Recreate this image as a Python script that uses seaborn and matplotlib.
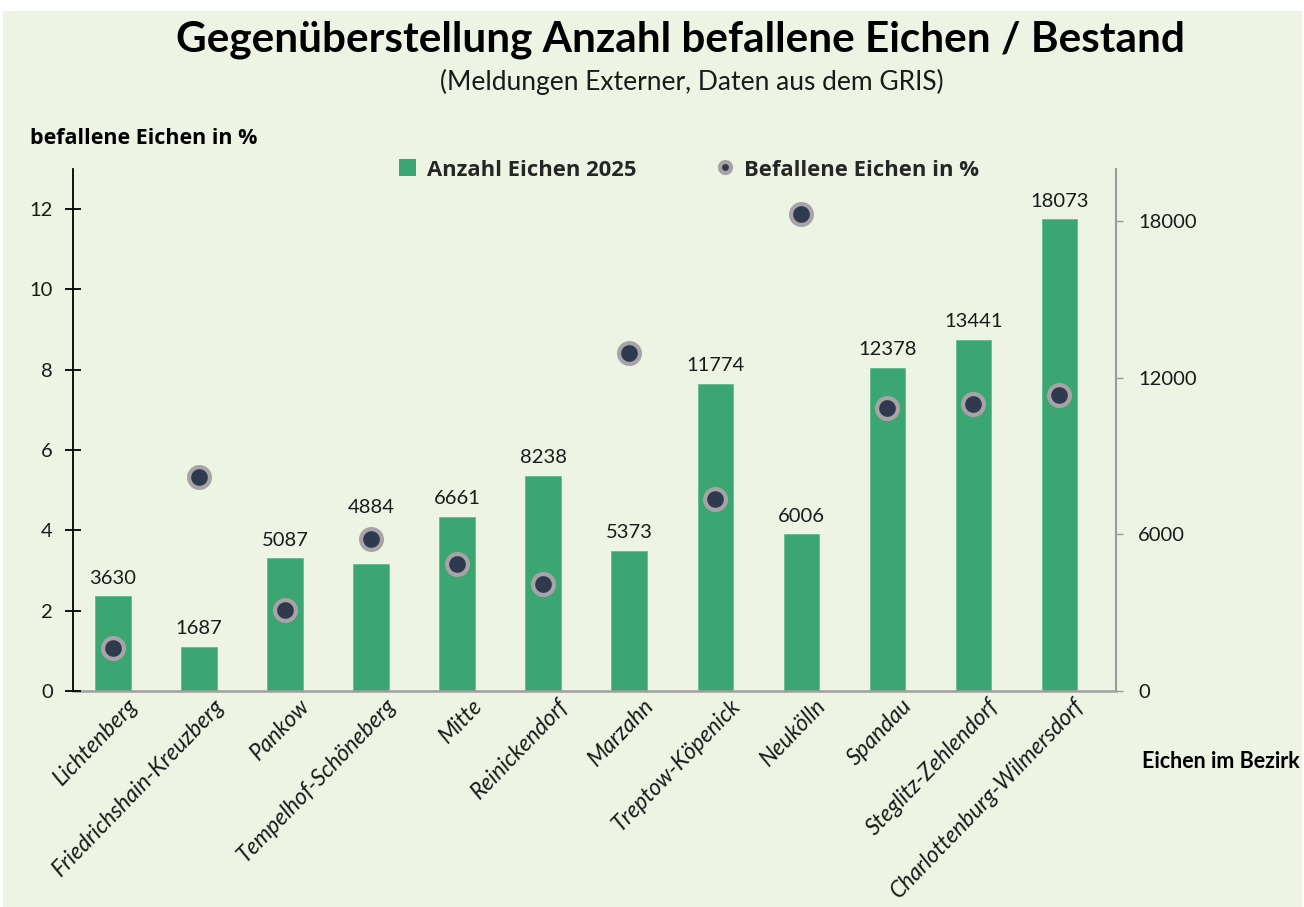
import matplotlib
matplotlib.use("Agg")
import matplotlib.pyplot as plt
import matplotlib.transforms as mtransforms
from matplotlib.lines import Line2D
from matplotlib.patches import Patch, Rectangle
import seaborn as sns
import pandas as pd
import numpy as np

# ---- data ----
districts = ["Lichtenberg", "Friedrichshain-Kreuzberg", "Pankow", "Tempelhof-Schöneberg",
             "Mitte", "Reinickendorf", "Marzahn", "Treptow-Köpenick", "Neukölln",
             "Spandau", "Steglitz-Zehlendorf", "Charlottenburg-Wilmersdorf"]
oaks_2025 = [3630, 1687, 5087, 4884, 6661, 8238, 5373, 11774, 6006, 12378, 13441, 18073]
infested_pct = [1.08, 5.32, 2.02, 3.78, 3.16, 2.66, 8.43, 4.79, 11.87, 7.06, 7.14, 7.37]
left_ticks = [0, 2, 4, 6, 8, 10, 12]
right_ticks = [0, 6000, 12000, 18000]

title = "Gegenüberstellung Anzahl befallene Eichen / Bestand"
subtitle = "(Meldungen Externer, Daten aus dem GRIS)"
left_label = "befallene Eichen in %"
right_label = "Eichen im Bezirk"
legend_bar = "Anzahl Eichen 2025"
legend_dot = "Befallene Eichen in %"

BG = "#EEF4E4"
GREEN = "#3BA672"
DOT = "#2F3A4F"
RING = "#A8A3A7"

sns.set_theme(style="white")
plt.rcParams["font.family"] = ["Lato", "DejaVu Sans"]

df = pd.DataFrame({"district": districts, "oaks": oaks_2025, "pct": infested_pct})

fig = plt.figure(figsize=(13.04, 9.07), dpi=100)
fig.patch.set_facecolor("white")
bg = Rectangle((3 / 1304, 0), 1 - 5 / 1304, 1 - 11 / 907,
               transform=fig.transFigure, facecolor=BG, edgecolor="none", zorder=-10)
fig.add_artist(bg)

YMAX_R, YMAX_L = 20000, 13
AX_H_PX = 691 - 169

ax = fig.add_axes([73 / 1304, 1 - 691 / 907, (1116 - 73) / 1304, AX_H_PX / 907])
ax.set_facecolor("none")
sns.barplot(data=df, x="district", y="oaks", color=GREEN, width=0.41, ax=ax,
            saturation=1, edgecolor="#5CC08A", linewidth=0.6)
ax.set_xlim(-0.465, 11.66)
ax.set_ylim(0, YMAX_R)
ax.set_yticks(right_ticks)
ax.yaxis.tick_right()
ax.yaxis.set_label_position("right")
anns = ax.bar_label(ax.containers[0], labels=[str(v) for v in oaks_2025], padding=7,
                    fontsize=14.5, color="#1a1a1a")
# lift a value label above a dot that would sit on top of it
for ann, v, p in zip(anns, oaks_2025, infested_pct):
    gap = p / YMAX_L - v / YMAX_R
    if 0 < gap < 0.06:
        ann.xyann = (0, (gap * AX_H_PX + 23) * 72 / 100)

ax2 = ax.twinx()
ax2.set_facecolor("none")
ax2.set_ylim(0, YMAX_L)
sns.scatterplot(data=df, x="district", y="pct", ax=ax2, s=15 ** 2, color=DOT,
                edgecolor=RING, linewidth=3, zorder=5)
ax2.set_xlim(-0.465, 11.66)
ax2.set_yticks(left_ticks)
ax2.yaxis.tick_left()
ax2.yaxis.set_label_position("left")

for a in (ax, ax2):
    a.set_xlabel("")
    a.set_ylabel("")
    a.spines["top"].set_visible(False)

ax.spines["left"].set_visible(False)
ax.spines["right"].set_color("#9a9a9a")
ax.spines["right"].set_linewidth(1.5)
ax.spines["bottom"].set_color("#a0a0a0")
ax.spines["bottom"].set_linewidth(1.8)
ax2.spines["right"].set_visible(False)
ax2.spines["bottom"].set_visible(False)
ax2.spines["left"].set_color("black")
ax2.spines["left"].set_linewidth(1.3)

ax.tick_params(axis="y", which="both", right=True, left=False, labelright=True, labelleft=False,
               direction="out", length=5, width=1, color="#9a9a9a", pad=11,
               labelsize=14.5, labelcolor="#1a1a1a")
ax2.tick_params(axis="y", left=True, right=False, labelleft=True, labelright=False,
                direction="inout", length=11, width=1.3, color="black", pad=9,
                labelsize=14.5, labelcolor="#1a1a1a")
ax.tick_params(axis="x", bottom=False, length=0, pad=2)
ax2.tick_params(axis="x", bottom=False, labelbottom=False)

ax.set_xticks(range(len(districts)))
ax.set_xticklabels(districts, rotation=46, ha="right", va="top", rotation_mode="anchor",
                   fontsize=16.3, style="italic", color="#1a1a1a")
offset = mtransforms.ScaledTranslation(14 / 100, -1 / 100, fig.dpi_scale_trans)
for lbl in ax.get_xticklabels():
    lbl.set_transform(lbl.get_transform() + offset)

fig.text(0.5215, 1 - 40 / 907, title, ha="center", va="center", fontsize=30.4,
         fontweight="bold", color="black")
fig.text(692 / 1304, 1 - 82 / 907, subtitle, ha="center", va="center", fontsize=19,
         color="#1a1a1a")
fig.text(30 / 1304, 1 - 138 / 907, left_label, ha="left", va="center", fontsize=15.5,
         fontweight="bold", color="black", family=["Open Sans", "DejaVu Sans"])
fig.text(1300 / 1304, 1 - 762 / 907, right_label, ha="right", va="center", fontsize=15.5,
         fontweight="bold", color="black")

handles = [Patch(facecolor=GREEN, edgecolor="none"),
           Line2D([0], [0], marker="o", linestyle="none", markersize=8,
                  markerfacecolor=DOT, markeredgecolor=RING, markeredgewidth=3)]
fig.legend(handles, [legend_bar, legend_dot], loc="center", ncol=2,
           bbox_to_anchor=(689 / 1304, 1 - 170 / 907), frameon=False,
           prop={"size": 15.8, "weight": "bold", "family": ["Open Sans", "DejaVu Sans"]},
           handlelength=0.8, handleheight=0.8, handletextpad=0.5, columnspacing=3.6)

fig.savefig("out.png", dpi=100, facecolor=fig.get_facecolor())
